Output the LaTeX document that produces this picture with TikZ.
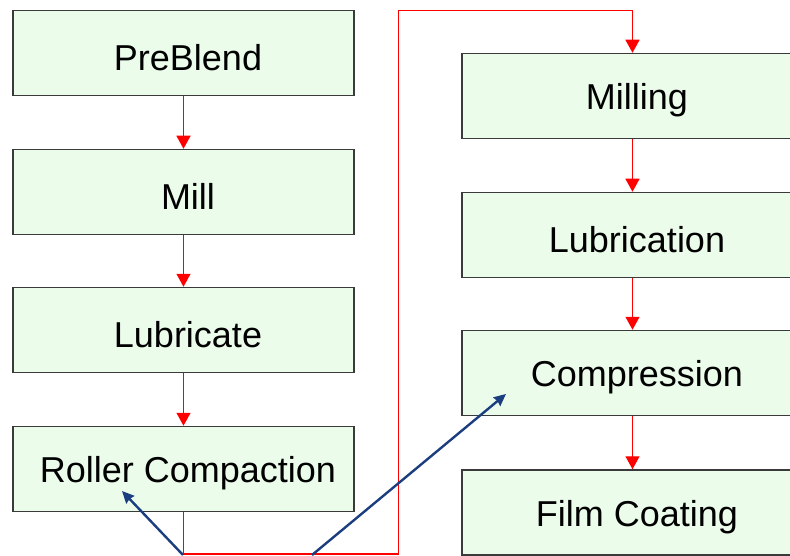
\documentclass[tikz,border=0pt]{standalone}
\usepackage{fontspec}
\setmainfont{Liberation Sans}
\usetikzlibrary{arrows.meta}
\definecolor{boxfill}{HTML}{EBFCEB}
\definecolor{boxline}{HTML}{3A3A3A}
\definecolor{navy}{HTML}{1A3E80}
\tikzset{
  stage/.style={draw=boxline, line width=1.5pt, fill=boxfill, minimum width=341pt, minimum height=85pt, inner sep=0pt,
    label={[font=\fontsize{36}{40}\selectfont, inner sep=0pt, xshift=4.5pt, yshift=-4.5pt]center:#1}},
  flow/.style={draw=red, line width=1.4pt, -{Triangle[width=14pt,length=13pt]}},
  redline/.style={draw=red, line width=1.4pt},
  pointer/.style={draw=navy, line width=2.4pt, -{Stealth[width=11pt,length=12pt,inset=1pt]}}
}
\begin{document}
\begin{tikzpicture}[x=1pt,y=-1pt]
\useasboundingbox (0,0) rectangle (790,556);
\fill[white] (0,0) rectangle (790,556);
\node[stage=PreBlend] (preblend) at (183.5,53) {};
\node[stage=Mill] (mill) at (183.5,192) {};
\node[stage=Lubricate] (lubricate) at (183.5,330) {};
\node[stage=Roller Compaction] (roller) at (183.5,469) {};
\node[stage=Milling] (milling) at (632.5,96) {};
\node[stage=Lubrication] (lubrication) at (632.5,235) {};
\node[stage=Compression] (compression) at (632.5,373) {};
\node[stage=Film Coating] (filmcoating) at (632.5,512.5) {};
\draw[flow] (preblend.south) -- (mill.north);
\draw[flow] (mill.south) -- (lubricate.north);
\draw[flow] (lubricate.south) -- (roller.north);
\draw[flow] (milling.south) -- (lubrication.north);
\draw[flow] (lubrication.south) -- (compression.north);
\draw[flow] (compression.south) -- (filmcoating.north);
\coordinate (c1) at (183.5,554);
\coordinate (c2) at (398.5,554);
\coordinate (c3) at (398.5,10.5);
\coordinate (c4) at (632.5,10.5);
\draw[redline] (roller.south) -- (c1) -- (c2) -- (c3) -- (c4);
\draw[flow] (c4) -- (milling.north);
\coordinate (b1) at (183,555);
\coordinate (t1) at (122,491);
\coordinate (b2) at (312,555);
\coordinate (t2) at (506,394);
\draw[pointer] (b1) -- (t1);
\draw[pointer] (b2) -- (t2);
\end{tikzpicture}
\end{document}
